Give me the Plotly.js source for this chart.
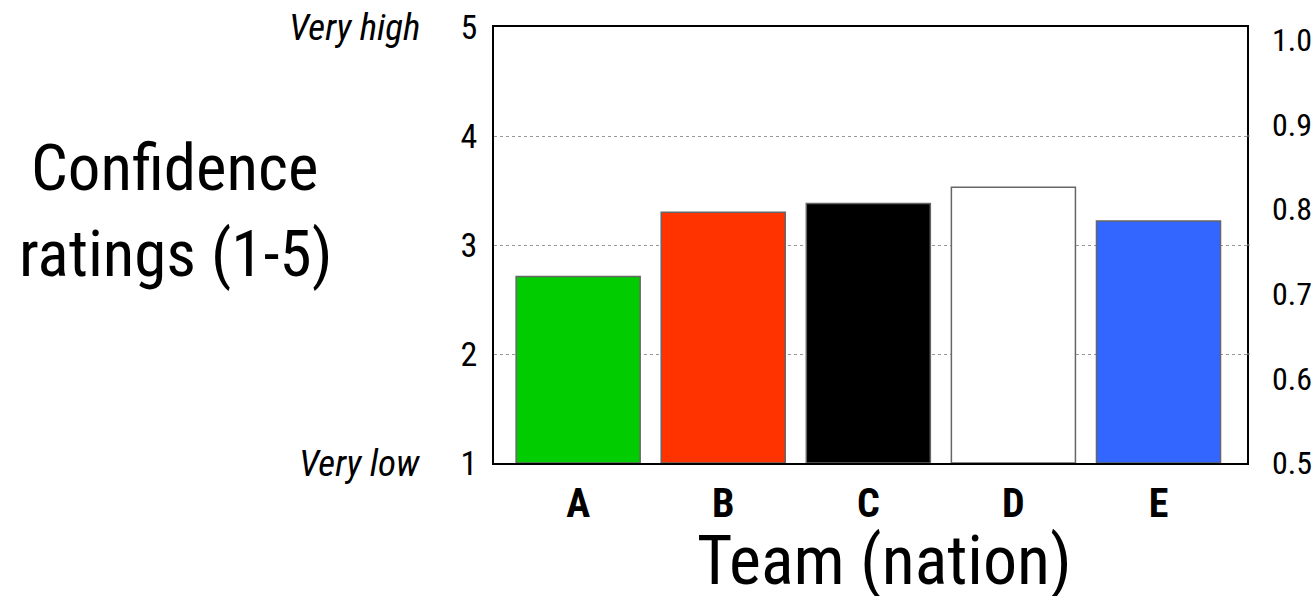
<!DOCTYPE html>
<html>
<head>
<meta charset="utf-8">
<script src="https://cdn.plot.ly/plotly-3.0.1.min.js"></script>
<style>
  html, body { margin: 0; padding: 0; background: #fff; }
  #chart { width: 1315px; height: 596px; }
</style>
</head>
<body>
<div id="chart"></div>
<script>
const teams = ['A', 'B', 'C', 'D', 'E'];
const ratings = [2.71, 3.30, 3.38, 3.53, 3.22];
const barColors = ['#00CC00', '#FF3300', '#000000', '#FFFFFF', '#3366FF'];
const leftTicks = [1, 2, 3, 4, 5];
const rightTicks = [0.5, 0.6, 0.7, 0.8, 0.9, 1.0];
const rightTickLabels = ['0.5', '0.6', '0.7', '0.8', '0.9', '1.0'];
const gridValues = [2, 3, 4];

const FONT = '"Liberation Sans Narrow", "Arial Narrow", "Roboto Condensed", "DejaVu Sans Condensed", sans-serif';

const traces = [
  {
    type: 'bar',
    x: teams,
    y: ratings.map(v => v - 1),
    base: 1,
    customdata: ratings,
    hovertemplate: '%{x}: %{customdata}<extra></extra>',
    marker: { color: barColors, line: { color: '#666666', width: 1.5 } },
    showlegend: false
  },
  {
    type: 'scatter',
    x: [teams[0], teams[0]],
    y: [rightTicks[0], rightTicks[rightTicks.length - 1]],
    yaxis: 'y2',
    mode: 'markers',
    marker: { opacity: 0 },
    hoverinfo: 'skip',
    showlegend: false
  }
];

const shapes = gridValues.map(v => ({
  type: 'line', xref: 'paper', yref: 'y',
  x0: 1, x1: 1.007, y0: v, y1: v,
  line: { color: '#999999', width: 1, dash: 'dot' }
}));

const layout = {
  width: 1315,
  height: 596,
  margin: { l: 494, r: 68, t: 27, b: 133, pad: 0 },
  paper_bgcolor: '#ffffff',
  plot_bgcolor: '#ffffff',
  font: { family: FONT, color: '#000000' },
  bargap: 0.145,
  showlegend: false,
  xaxis: {
    type: 'category',
    range: [-0.58, 4.61],
    showline: true, mirror: true, linecolor: '#000000', linewidth: 2,
    showgrid: false, zeroline: false, ticks: '',
    tickfont: { family: FONT, size: 40, weight: 'bold', color: '#000000' },
    ticklabelstandoff: 4,
    fixedrange: true
  },
  yaxis: {
    range: [1, 5],
    tickvals: leftTicks,
    ticktext: leftTicks.map(String),
    showline: true, mirror: true, linecolor: '#000000', linewidth: 2,
    showgrid: true, gridcolor: '#999999', gridwidth: 1, griddash: 'dot',
    zeroline: false, ticks: '',
    tickfont: { family: FONT, size: 34, color: '#000000' },
    ticklabelstandoff: 8,
    fixedrange: true
  },
  yaxis2: {
    overlaying: 'y',
    side: 'right',
    range: [0.5, 1.0154],
    tickvals: rightTicks,
    ticktext: rightTickLabels,
    showline: false, showgrid: false, zeroline: false, ticks: '',
    tickfont: { family: FONT, size: 32, color: '#000000' },
    ticklabelstandoff: 24,
    fixedrange: true
  },
  shapes: shapes,
  annotations: [
    { text: 'Very high', xref: 'paper', yref: 'y', x: -0.0956, y: 5, xanchor: 'right', yanchor: 'middle',
      showarrow: false, font: { family: FONT, size: 37, style: 'italic', color: '#000000' } },
    { text: 'Very low', xref: 'paper', yref: 'y', x: -0.0956, y: 1, xanchor: 'right', yanchor: 'middle',
      showarrow: false, font: { family: FONT, size: 37, style: 'italic', color: '#000000' } },
    { text: 'Confidence', xref: 'paper', yref: 'paper', x: -0.4236, y: 0.676, xanchor: 'center', yanchor: 'middle',
      showarrow: false, font: { family: FONT, size: 65, color: '#000000' } },
    { text: 'ratings (1-5)', xref: 'paper', yref: 'paper', x: -0.4236, y: 0.48, xanchor: 'center', yanchor: 'middle',
      showarrow: false, font: { family: FONT, size: 65, color: '#000000' } },
    { text: 'Team (nation)', xref: 'paper', yref: 'paper', x: 0.518, y: -0.128, xanchor: 'center', yanchor: 'top',
      showarrow: false, font: { family: FONT, size: 68, color: '#000000' } }
  ]
};

Plotly.newPlot('chart', traces, layout, { displayModeBar: false });
</script>
</body>
</html>
